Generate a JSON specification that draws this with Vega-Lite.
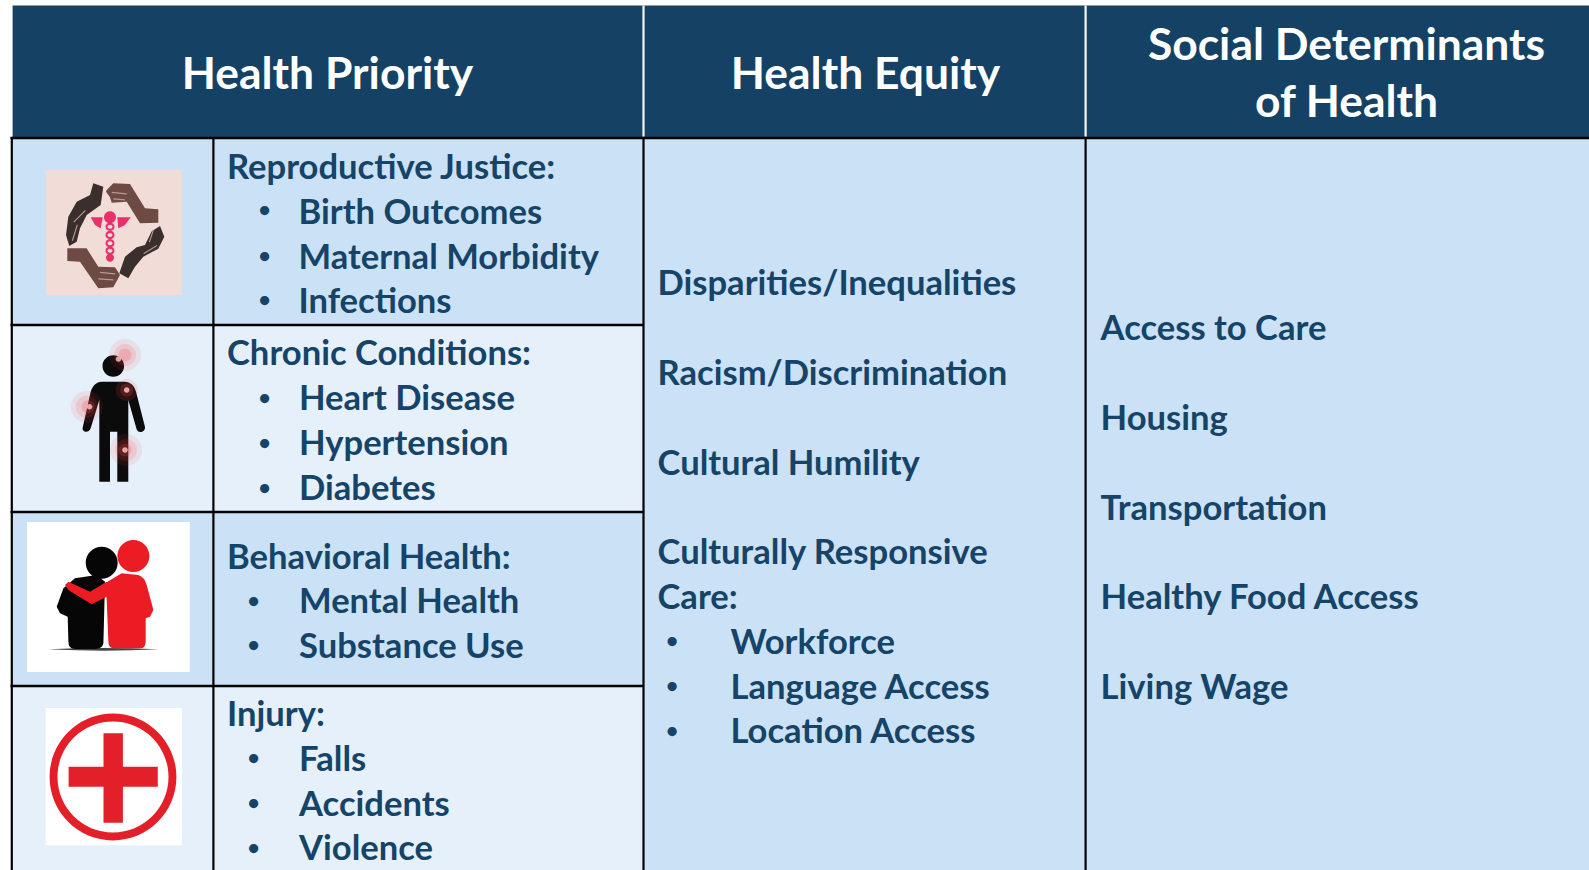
{
"$schema":"https://vega.github.io/schema/vega-lite/v6.json",
"width":1589,"height":870,"padding":0,
"autosize":"none",
"background":"white",
"view":{"stroke":null},
"config":{"font":"Lato"},
"datasets":{
"cells":[
{"name":"header","x":1.26,"x2":158.9,"y":0.55,"y2":13.8,"band":"header"},
{"name":"reproductive","x":1.2,"x2":64.35,"y":13.8,"y2":32.5,"band":"mid"},
{"name":"chronic","x":1.2,"x2":64.35,"y":32.5,"y2":51.2,"band":"pale"},
{"name":"behavioral","x":1.2,"x2":64.35,"y":51.2,"y2":68.6,"band":"mid"},
{"name":"injury","x":1.2,"x2":64.35,"y":68.6,"y2":87,"band":"pale"},
{"name":"equity","x":64.35,"x2":108.56,"y":13.8,"y2":87,"band":"mid"},
{"name":"social","x":108.56,"x2":158.9,"y":13.8,"y2":87,"band":"mid"}
],
"hlines":[
{"x":1.05,"x2":158.9,"y":13.8},
{"x":1.05,"x2":64.35,"y":32.5},
{"x":1.05,"x2":64.35,"y":51.2},
{"x":1.05,"x2":64.35,"y":68.6}
],
"vlines":[
{"x":1.18,"y":13.7,"y2":87,"kind":"grid"},
{"x":21.34,"y":13.7,"y2":87,"kind":"grid"},
{"x":64.35,"y":13.7,"y2":87,"kind":"grid"},
{"x":108.56,"y":13.7,"y2":87,"kind":"grid"},
{"x":64.35,"y":0.55,"y2":13.65,"kind":"header"},
{"x":108.56,"y":0.55,"y2":13.65,"kind":"header"}
],
"icons":[
{"part":"hands backdrop","x":11.38,"y":23.25},
{"part":"brown hand top","x":11.38,"y":23.25},
{"part":"dark hand top","x":11.38,"y":23.25},
{"part":"brown hand bottom","x":11.38,"y":23.25},
{"part":"dark hand bottom","x":11.38,"y":23.25},
{"part":"hand creases","x":11.38,"y":23.25},
{"part":"caduceus","x":11.38,"y":23.25},
{"part":"person","x":11.45,"y":42.5},
{"part":"glow 16","x":12.5,"y":35.5},
{"part":"glow 12","x":12.5,"y":35.5},
{"part":"glow 8","x":12.5,"y":35.5},
{"part":"glow 16","x":8.67,"y":40.67},
{"part":"glow 12","x":8.67,"y":40.67},
{"part":"glow 8","x":8.8,"y":40.67},
{"part":"glow 12","x":12.67,"y":39},
{"part":"glow 8","x":12.67,"y":39},
{"part":"glow 16","x":12.6,"y":45},
{"part":"glow 12","x":12.6,"y":45},
{"part":"glow 8","x":12.5,"y":45},
{"part":"glow spot","x":12.67,"y":39},
{"part":"glow spot","x":8.95,"y":40.67},
{"part":"glow spot","x":12.5,"y":45},
{"part":"glow spot","x":11.85,"y":35.9},
{"part":"support backdrop","x":10.84,"y":59.7},
{"part":"support shadow","x":10.84,"y":59.7},
{"part":"black figure","x":10.84,"y":59.7},
{"part":"red figure","x":10.84,"y":59.7},
{"part":"red arm","x":10.84,"y":59.7},
{"part":"first aid backdrop","x":11.38,"y":77.66},
{"part":"first aid ring","x":11.3,"y":77.7},
{"part":"first aid cross","x":11.3,"y":77.7}
],
"heads":[
{"label":"Health Priority","x":32.75,"y":8.9},
{"label":"Health Equity","x":86.55,"y":8.9},
{"label":"Social Determinants","x":134.65,"y":6.02},
{"label":"of Health","x":134.65,"y":11.74}
],
"lines":[
{"label":"Reproductive Justice:","x":22.7,"y":17.9},
{"label":"Birth Outcomes","x":29.85,"y":22.35},
{"label":"Maternal Morbidity","x":29.85,"y":26.85},
{"label":"Infections","x":29.85,"y":31.3},
{"label":"Chronic Conditions:","x":22.7,"y":36.5},
{"label":"Heart Disease","x":29.9,"y":41},
{"label":"Hypertension","x":29.9,"y":45.5},
{"label":"Diabetes","x":29.9,"y":50},
{"label":"Behavioral Health:","x":22.7,"y":56.85},
{"label":"Mental Health","x":29.9,"y":61.3},
{"label":"Substance Use","x":29.9,"y":65.75},
{"label":"Injury:","x":22.7,"y":72.6},
{"label":"Falls","x":29.9,"y":77.08},
{"label":"Accidents","x":29.9,"y":81.55},
{"label":"Violence","x":29.9,"y":86.02},
{"label":"Disparities/Inequalities","x":65.75,"y":29.52},
{"label":"Racism/Discrimination","x":65.75,"y":38.5},
{"label":"Cultural Humility","x":65.75,"y":47.45},
{"label":"Culturally Responsive","x":65.75,"y":56.42},
{"label":"Care:","x":65.75,"y":60.9},
{"label":"Workforce","x":73.05,"y":65.36},
{"label":"Language Access","x":73.05,"y":69.85},
{"label":"Location Access","x":73.05,"y":74.33},
{"label":"Access to Care","x":110.06,"y":34.02},
{"label":"Housing","x":110.06,"y":43},
{"label":"Transportation","x":110.06,"y":51.97},
{"label":"Healthy Food Access","x":110.06,"y":60.93},
{"label":"Living Wage","x":110.06,"y":69.9}
],
"bullets":[
{"label":"•","x":26.45,"y":22.17},
{"label":"•","x":26.45,"y":26.7},
{"label":"•","x":26.45,"y":31.17},
{"label":"•","x":26.45,"y":40.95},
{"label":"•","x":26.45,"y":45.4},
{"label":"•","x":26.45,"y":49.9},
{"label":"•","x":25.35,"y":61.2},
{"label":"•","x":25.35,"y":65.68},
{"label":"•","x":25.35,"y":76.98},
{"label":"•","x":25.35,"y":81.47},
{"label":"•","x":25.35,"y":85.96},
{"label":"•","x":67.2,"y":65.28},
{"label":"•","x":67.2,"y":69.77},
{"label":"•","x":67.2,"y":74.25}
]
},
"resolve":{"scale":{"color":"independent"}},
"layer":[
{"data":{"name":"cells"},"mark":{"type":"rect"},
 "encoding":{
  "x":{"field":"x","type":"quantitative","axis":null,"scale":{"domain":[0,158.9],"nice":false,"zero":false}},
  "x2":{"field":"x2"},
  "y":{"field":"y","type":"quantitative","axis":null,"scale":{"domain":[87,0],"nice":false,"zero":false}},
  "y2":{"field":"y2"},
  "color":{"field":"band","type":"nominal","legend":null,"scale":{"domain":["header","mid","pale"],"range":["#154264","#cbe1f5","#e6f0fa"]}}
 }},
{"data":{"name":"icons"},"mark":{"type":"point","filled":true,"opacity":1,"size":4,"strokeWidth":0},
 "encoding":{
  "x":{"field":"x","type":"quantitative","axis":null},
  "y":{"field":"y","type":"quantitative","axis":null},
  "shape":{"field":"part","type":"nominal","legend":null,"scale":{
   "domain":["hands backdrop","brown hand top","dark hand top","brown hand bottom","dark hand bottom","hand creases","caduceus","person","glow 16","glow 12","glow 8","glow spot","support backdrop","support shadow","black figure","red figure","red arm","first aid backdrop","first aid ring","first aid cross"],
   "range":[
    "M-68,-62.5L68,-62.5L68,62.5L-68,62.5Z",
    "M-7.1,-42.5L-0.5,-49.2L16.2,-48.5L31.2,-24.2L44.5,-23.2L44.5,-9.8L26.2,-9.2L12.9,-30.8L-2.1,-29.8L-3.8,-35.2L-7.8,-40.8Z",
    "M-20.5,-49.2L-10.5,-45.8L-13.1,-27.5L-27.1,-17.5L-33.8,-4.2L-37.1,9.2L-44.5,13.5L-47.8,2.5L-45.5,-15.8L-37.1,-30.8L-23.8,-37.5Z",
    "M-46.5,15.8L-27.2,15.8L-15.5,34.2L1.2,34.8L6.2,42.5L-0.5,54.8L-15.5,55.8L-33.8,29.2L-46.5,28.5Z",
    "M46.2,-6.5L50.5,4.2L44.5,16.2L29.5,24.2L21.2,34.2L14.5,45.8L5.5,40.8L11.2,24.2L22.9,14.8L31.2,12.5L37.9,-1.2Z",
    "M-2.1,-40.8L12.9,-39.2L12.9,-38L-2.1,-39.6ZM-0.5,-34.2L11.2,-33.2L11.2,-32L-0.5,-33ZM-13.8,39.2L1.2,40.8L1.2,42L-13.8,40.4ZM-15.5,45.8L-0.5,46.8L-0.5,48L-15.5,47ZM-40.5,-10.8L-28.8,-22.5L-28,-21.7L-39.7,-10ZM-42,8L-37,-8L-36,-7.6L-41,8.4ZM29.5,20.8L42.9,12.5L43.4,13.4L30,21.7ZM40,-2L36,10L35,9.6L39,-2.4Z",
    "M-23.1,-15.2L-11.1,-15.2L-13.1,-4.2L-18.8,-7.5ZM3.5,-15.2L16.9,-15.2L11.2,-7.5L4.5,-4.2ZM-9.8,-15.2A6,6 0 1,1 2.2,-15.2A6,6 0 1,1 -9.8,-15.2ZM-8.3,-5.8A4.5,4.2 0 1,1 0.7,-5.8A4.5,4.2 0 1,1 -8.3,-5.8ZM-6.3,-5.8A2.5,2 0 1,0 -1.3,-5.8A2.5,2 0 1,0 -6.3,-5.8ZM-8.3,2.5A4.5,4.2 0 1,1 0.7,2.5A4.5,4.2 0 1,1 -8.3,2.5ZM-6.3,2.5A2.5,2 0 1,0 -1.3,2.5A2.5,2 0 1,0 -6.3,2.5ZM-8.3,10.8A4.5,4.2 0 1,1 0.7,10.8A4.5,4.2 0 1,1 -8.3,10.8ZM-6.3,10.8A2.5,2 0 1,0 -1.3,10.8A2.5,2 0 1,0 -6.3,10.8ZM-8.3,18.2A4.5,4.2 0 1,1 0.7,18.2A4.5,4.2 0 1,1 -8.3,18.2ZM-6.3,18.2A2.5,2 0 1,0 -1.3,18.2A2.5,2 0 1,0 -6.3,18.2ZM-7.8,25.2A4,4 0 1,1 0.2,25.2A4,4 0 1,1 -7.8,25.2Z",
    "M-13,-43.3L10,-43.3C16,-43.3 20,-39 21.5,-33.3L30.5,2C31,7 24,9 22.2,4.5L13.8,-25L13.8,56.7L2.8,56.7L2.8,6.7L-4.5,6.7L-4.5,56.7L-15.2,56.7L-15.2,-25L-23.8,3.3C-26,9 -33,7 -31.8,2.5L-23.8,-33.3C-22,-39 -18,-43.3 -13,-43.3ZM-12,-59A10.8,10.8 0 1,1 9.6,-59A10.8,10.8 0 1,1 -12,-59Z",
    "M-16,0A16,16 0 1,1 16,0A16,16 0 1,1 -16,0Z",
    "M-11,0A11,11 0 1,1 11,0A11,11 0 1,1 -11,0Z",
    "M-6.5,0A6.5,6.5 0 1,1 6.5,0A6.5,6.5 0 1,1 -6.5,0Z",
    "M-2.8,0A2.8,2.8 0 1,1 2.8,0A2.8,2.8 0 1,1 -2.8,0Z",
    "M-81.4,-75L81.4,-75L81.4,75L-81.4,75Z",
    "M-60,52.3Q-5,49.6 50,52.3Q-5,55 -60,52.3Z",
    "M-22.7,-34.3A16,16 0 1,1 9.3,-34.3A16,16 0 1,1 -22.7,-34.3ZM-33.4,-18.7L-11.7,-22L-3.4,-15.3L-5,46.3Q-6,52 -13.4,52L-33.4,52Q-40,52 -40,44.7L-40.7,19.7L-48.4,16.3L-51.7,9.7L-45,-8.7Z",
    "M9,-41A16,16 0 1,1 41,-41A16,16 0 1,1 9,-41ZM13.3,-23.7L30,-22Q36,-20 38.3,-12L45,13L41.6,19.7L37.3,21.3L37.3,44.7Q37,51.3 31.6,51.3L6.6,51.3Q0,51.3 0,44.7L-1.7,3L-3.4,-13.7Z",
    "M-43.4,-12L-40,-15.3L-18.4,-5.3L-1.7,-15.3L1.6,-2L-16.7,7.3L-26.7,1.3L-40,-7Z",
    "M-68,-68.6L68,-68.6L68,68.6L-68,68.6Z",
    "M-63.4,0A63.4,63.4 0 1,1 63.4,0A63.4,63.4 0 1,1 -63.4,0ZM-55.5,0A55.5,55.5 0 1,0 55.5,0A55.5,55.5 0 1,0 -55.5,0Z",
    "M-9.5,-43.7L9.9,-43.7L9.9,-10.3L44.8,-10.3L44.8,9.7L9.9,9.7L9.9,45.8L-9.5,45.8L-9.5,9.7L-44.4,9.7L-44.4,-10.3L-9.5,-10.3Z"
   ]}},
  "color":{"field":"part","type":"nominal","legend":null,"scale":{
   "domain":["hands backdrop","brown hand top","dark hand top","brown hand bottom","dark hand bottom","hand creases","caduceus","person","glow 16","glow 12","glow 8","glow spot","support backdrop","support shadow","black figure","red figure","red arm","first aid backdrop","first aid ring","first aid cross"],
   "range":["#f2dcd8","#6e4a45","#3a2f2d","#6e4a45","#3a2f2d","#b89a92","#e8306a","#0b0b0b","rgba(245,70,70,0.10)","rgba(245,70,70,0.14)","rgba(245,70,70,0.22)","rgba(250,190,190,0.85)","#ffffff","#444444","#060606","#ec1c24","#ec1c24","#ffffff","#e3202a","#e3202a"]}}
 }},
{"data":{"name":"hlines"},"mark":{"type":"rule","color":"#000000","strokeWidth":2.6},
 "encoding":{
  "x":{"field":"x","type":"quantitative","axis":null},
  "x2":{"field":"x2"},
  "y":{"field":"y","type":"quantitative","axis":null}
 }},
{"data":{"name":"vlines"},"mark":{"type":"rule","strokeWidth":2.2},
 "encoding":{
  "x":{"field":"x","type":"quantitative","axis":null},
  "y":{"field":"y","type":"quantitative","axis":null},
  "y2":{"field":"y2"},
  "color":{"field":"kind","type":"nominal","legend":null,"scale":{"domain":["grid","header"],"range":["#000000","#f2f6fa"]}}
 }},
{"data":{"name":"heads"},"mark":{"type":"text","font":"Lato","fontWeight":"bold","fontSize":44.4,"align":"center","baseline":"alphabetic","color":"#ffffff"},
 "encoding":{
  "x":{"field":"x","type":"quantitative","axis":null},
  "y":{"field":"y","type":"quantitative","axis":null},
  "text":{"field":"label"}
 }},
{"data":{"name":"lines"},"mark":{"type":"text","font":"Lato","fontWeight":"bold","fontSize":34.6,"align":"left","baseline":"alphabetic","color":"#154468"},
 "encoding":{
  "x":{"field":"x","type":"quantitative","axis":null},
  "y":{"field":"y","type":"quantitative","axis":null},
  "text":{"field":"label"}
 }},
{"data":{"name":"bullets"},"mark":{"type":"text","font":"Lato","fontWeight":"bold","fontSize":21,"dy":-4.5,"align":"center","baseline":"alphabetic","color":"#154468"},
 "encoding":{
  "x":{"field":"x","type":"quantitative","axis":null},
  "y":{"field":"y","type":"quantitative","axis":null},
  "text":{"field":"label"}
 }}
]
}
